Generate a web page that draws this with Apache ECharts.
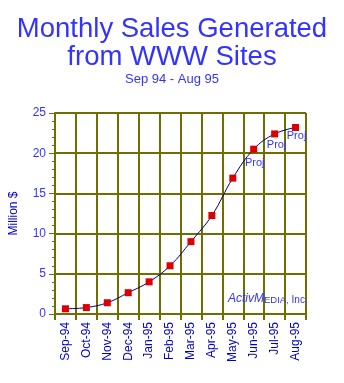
<!DOCTYPE html>
<html>
<head>
<meta charset="utf-8">
<script src="https://cdn.jsdelivr.net/npm/echarts@6/dist/echarts.min.js"></script>
<style>
  html, body { margin: 0; padding: 0; background: #ffffff; }
  #chart { width: 344px; height: 383px; }
</style>
</head>
<body>
<div id="chart"></div>
<script>
// Monthly sales (million $), Sep 94 - Aug 95; last three months are projections
const months = ['Sep-94', 'Oct-94', 'Nov-94', 'Dec-94', 'Jan-95', 'Feb-95',
                'Mar-95', 'Apr-95', 'May-95', 'Jun-95', 'Jul-95', 'Aug-95'];
const sales = [0.65, 0.8, 1.4, 2.65, 4.0, 6.0, 9.0, 12.25, 16.9, 20.5, 22.4, 23.2];
const projected = [false, false, false, false, false, false,
                   false, false, false, true, true, true];
const yTicks = [0, 5, 10, 15, 20, 25];

const FONT = '"Liberation Sans", Arial, sans-serif';
const BLUE = '#3333ff';
const DARK_BLUE = '#0000cc';
const GRID = '#6f6f00';

const projOffsets = [[1, 5], [2, 2], [1, -1]];
let projIdx = 0;
const pointData = sales.map((v, i) => {
  if (!projected[i]) return v;
  const off = projOffsets[projIdx++];
  return {
    value: v,
    label: {
      show: true, formatter: 'Proj', position: 'bottom', distance: 0,
      offset: off, color: BLUE, fontSize: 11, fontFamily: FONT
    }
  };
});

const chart = echarts.init(document.getElementById('chart'), null, { renderer: 'canvas' });
chart.setOption({
  backgroundColor: '#ffffff',
  animation: false,
  title: [{
    text: 'Monthly Sales Generated\nfrom WWW Sites',
    left: 'center', top: 10,
    textStyle: { color: BLUE, fontSize: 27.5, fontWeight: 'normal', fontFamily: FONT, lineHeight: 28 }
  }, {
    text: 'Sep 94 - Aug 95',
    left: 'center', top: 68,
    textStyle: { color: BLUE, fontSize: 13, fontWeight: 'normal', fontFamily: FONT }
  }],
  grid: { left: 49, right: 38, top: 113, bottom: 69, containLabel: false },
  xAxis: {
    type: 'category',
    data: months,
    boundaryGap: true,
    axisLine: { show: true, lineStyle: { color: GRID, width: 1 } },
    axisTick: { show: true, length: 6, lineStyle: { color: GRID, width: 2 } },
    splitLine: { show: true, lineStyle: { color: GRID, width: 2 } },
    axisLabel: {
      rotate: 90, interval: 0, margin: 8, color: DARK_BLUE, fontSize: 12, fontFamily: FONT
    }
  },
  yAxis: {
    type: 'value',
    min: yTicks[0], max: yTicks[yTicks.length - 1], interval: 5,
    name: 'Million $', nameLocation: 'middle', nameGap: 35, nameRotate: 90,
    nameTextStyle: { color: DARK_BLUE, fontSize: 12, fontFamily: FONT },
    axisLine: { show: true, lineStyle: { color: GRID, width: 2 } },
    axisTick: { show: true, length: 6, lineStyle: { color: GRID, width: 1 } },
    minorTick: { show: true, splitNumber: 5, length: 3, lineStyle: { color: GRID, width: 1 } },
    splitLine: { show: true, lineStyle: { color: GRID, width: 2 } },
    axisLabel: { margin: 9, color: BLUE, fontSize: 12, fontFamily: FONT }
  },
  series: [{
    type: 'line',
    data: pointData,
    smooth: 0.4,
    symbol: 'rect',
    symbolSize: 7,
    itemStyle: { color: '#dd0000' },
    lineStyle: { color: '#000080', width: 1 },
    z: 3
  }],
  graphic: [{
    type: 'text',
    left: 228, top: 293,
    style: {
      text: '{a|ActivM}{b|EDIA,}{c| Inc.}',
      rich: {
        a: { fontSize: 12, fontStyle: 'italic', fontFamily: FONT, fill: BLUE, color: BLUE, verticalAlign: 'bottom' },
        b: { fontSize: 9.5, fontFamily: FONT, fill: BLUE, color: BLUE, verticalAlign: 'bottom' },
        c: { fontSize: 10, fontFamily: FONT, fill: BLUE, color: BLUE, verticalAlign: 'bottom' }
      }
    },
    z: 10
  }]
});
</script>
</body>
</html>
